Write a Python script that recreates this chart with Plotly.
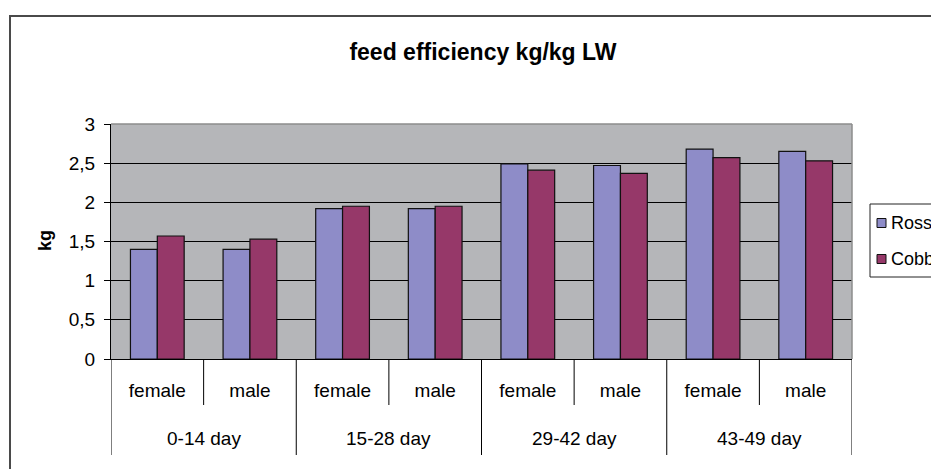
import plotly.graph_objects as go

# ---- data ----
periods = ["0-14 day", "15-28 day", "29-42 day", "43-49 day"]
sexes = ["female", "male"]
series_names = ["Ross", "Cobb"]
ross = [1.40, 1.40, 1.92, 1.92, 2.49, 2.47, 2.68, 2.65]
cobb = [1.57, 1.53, 1.95, 1.95, 2.41, 2.37, 2.57, 2.53]
y_tick_vals = [0, 0.5, 1, 1.5, 2, 2.5, 3]
y_tick_text = ["0", "0,5", "1", "1,5", "2", "2,5", "3"]
title_text = "feed efficiency kg/kg LW"
y_title = "kg"

# ---- styling ----
FONT = "Liberation Sans, Arial, sans-serif"
colors = ["#8E8CC8", "#963869"]
plot_bg = "#B5B6B9"
OFF = 8  # page body margin in the browser

# window-pixel geometry of the plot area
PL, PR, PT, PB = 111, 852, 124, 359
PW, PH = PR - PL, PB - PT
W, H = 939 - OFF, 469 - OFF


def px(xw):
    return (xw - PL) / PW


def py(yw):
    return (PB - yw) / PH


cat_keys = [f"{p}|{s}" for p in periods for s in sexes]
cat_text = [s for p in periods for s in sexes]

fig = go.Figure()
for name, vals, col in zip(series_names, [ross, cobb], colors):
    fig.add_trace(go.Bar(
        x=cat_keys, y=vals, name=name, showlegend=False,
        marker=dict(color=col, line=dict(color="#111111", width=1.2)),
    ))

n_cat = len(cat_keys)
n_sex = len(sexes)
shapes = []
# plot-area top & right edges (gray)
shapes.append(dict(type="line", xref="paper", yref="paper", x0=0, x1=1, y0=1, y1=1,
                   line=dict(color="#8C8C8C", width=1.5), layer="above"))
shapes.append(dict(type="line", xref="paper", yref="paper", x0=1, x1=1, y0=0, y1=1,
                   line=dict(color="#8C8C8C", width=1.5), layer="above"))
# outer chart frame
shapes.append(dict(type="rect", xref="paper", yref="paper",
                   x0=px(10), x1=px(960), y0=py(490), y1=py(16),
                   line=dict(color="#4A4A4A", width=2)))
# group dividers (full height of both label rows)
for g in range(len(periods) + 1):
    xb = g * n_sex - 0.5
    shapes.append(dict(type="line", xref="x", yref="paper", x0=xb, x1=xb,
                       y0=0, y1=py(455), line=dict(color="black", width=1)))
# dividers between sexes (first label row only)
for g in range(len(periods)):
    for k in range(1, n_sex):
        xb = g * n_sex + k - 0.5
        shapes.append(dict(type="line", xref="x", yref="paper", x0=xb, x1=xb,
                           y0=0, y1=py(405), line=dict(color="black", width=1)))

annotations = []
for g, p in enumerate(periods):
    annotations.append(dict(text=p, xref="x", yref="paper",
                            x=g * n_sex + (n_sex - 1) / 2, y=py(438),
                            showarrow=False, yanchor="middle", xanchor="center",
                            font=dict(family=FONT, size=19, color="black")))
annotations.append(dict(text=f"<b>{y_title}</b>", xref="paper", yref="paper",
                        x=px(45), y=py(241), textangle=-90,
                        showarrow=False, xanchor="center", yanchor="middle",
                        font=dict(family=FONT, size=18, color="black")))

# legend (box, swatches, labels)
shapes.append(dict(type="rect", xref="paper", yref="paper",
                   x0=px(870), x1=px(975), y0=py(277), y1=py(204),
                   fillcolor="white", line=dict(color="#222222", width=1)))
legend_rows = [223, 259]
for name, col, yr in zip(series_names, colors, legend_rows):
    shapes.append(dict(type="rect", xref="paper", yref="paper",
                       x0=px(877), x1=px(886), y0=py(yr + 4.5), y1=py(yr - 4.5),
                       fillcolor=col, line=dict(color="#111111", width=1)))
    annotations.append(dict(text=name, xref="paper", yref="paper",
                            x=px(889), y=py(yr), showarrow=False,
                            xanchor="left", yanchor="middle",
                            font=dict(family=FONT, size=18, color="black")))

fig.update_layout(
    width=W, height=H,
    margin=dict(l=PL - OFF, r=W - (PR - OFF), t=PT - OFF, b=H - (PB - OFF), autoexpand=False),
    paper_bgcolor="white", plot_bgcolor=plot_bg,
    barmode="group", bargap=0.42, bargroupgap=0,
    title=dict(text=f"<b>{title_text}</b>", x=(483 - OFF) / W, xanchor="center",
               y=1 - (52 - OFF) / H, yanchor="middle",
               font=dict(family=FONT, size=23, color="black")),
    showlegend=False,
    xaxis=dict(type="category", tickvals=cat_keys, ticktext=cat_text,
               showgrid=False, showline=True, linecolor="black", linewidth=1,
               ticks="outside", ticklen=14, tickcolor="rgba(0,0,0,0)",
               tickfont=dict(family=FONT, size=19, color="black"),
               range=[-0.5, n_cat - 0.5], fixedrange=True),
    yaxis=dict(range=[0, 3], tickvals=y_tick_vals, ticktext=y_tick_text,
               showgrid=True, gridcolor="black", gridwidth=1,
               showline=True, linecolor="black", linewidth=1,
               zeroline=False,
               ticks="outside", ticklen=6, tickcolor="black", ticklabelstandoff=5,
               tickfont=dict(family=FONT, size=19, color="black"), fixedrange=True),
    shapes=shapes, annotations=annotations,
)

fig.write_html("out.html")
